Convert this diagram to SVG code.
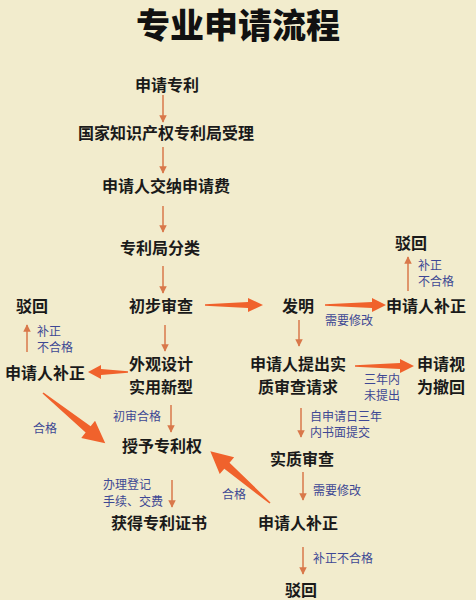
<svg xmlns="http://www.w3.org/2000/svg" width="476" height="600" viewBox="0 0 476 600">
<style>
.bg{fill:#F2ECCD}
.title{font-family:"Noto Sans CJK SC","Noto Sans",sans-serif;font-size:34px;font-weight:900;fill:#111;text-anchor:middle}
.n{font-family:"Noto Sans CJK SC","Noto Sans",sans-serif;font-size:16px;font-weight:700;fill:#1a1a1a;text-anchor:middle}
.l{font-family:"Noto Sans CJK SC","Noto Sans",sans-serif;font-size:12px;fill:#3E4894}
.thin{stroke:#D9784A;stroke-width:1.5;fill:none;marker-end:url(#ah)}
.thick{fill:#F0622C}
</style>
<defs>
<marker id="ah" viewBox="0 0 10 10" refX="9" refY="5" markerWidth="5" markerHeight="5" orient="auto" markerUnits="strokeWidth">
<path d="M0,0 L10,5 L0,10 Z" fill="#D9784A"/>
</marker>
</defs>
<rect class="bg" x="0" y="0" width="476" height="600"/>
<text class="title" x="238" y="38">专业申请流程</text>

<g id="connectors">
<line class="thin" x1="163" y1="95" x2="163" y2="122"/>
<line class="thin" x1="163" y1="147" x2="163" y2="173"/>
<line class="thin" x1="163" y1="206" x2="163" y2="232"/>
<line class="thin" x1="163" y1="266" x2="163" y2="293"/>
<line class="thin" x1="165" y1="325" x2="165" y2="351"/>
<line class="thin" x1="299" y1="320" x2="299" y2="346"/>
<line class="thin" x1="171" y1="405" x2="171" y2="432"/>
<line class="thin" x1="301" y1="408" x2="301" y2="437"/>
<line class="thin" x1="172" y1="480" x2="172" y2="507"/>
<line class="thin" x1="303" y1="472" x2="303" y2="500"/>
<line class="thin" x1="303" y1="547" x2="303" y2="574"/>
<line class="thin" x1="408" y1="291" x2="408" y2="257"/>
<line class="thin" x1="27" y1="352" x2="27" y2="325"/>
<path class="thick" transform="translate(205,305)" d="M0,-0.8 L43,-3 L43,-7 L58,0 L43,7 L43,3 L0,0.8 Z"/>
<path class="thick" transform="translate(325,305)" d="M0,-0.8 L47,-3 L47,-7 L61,0 L47,7 L47,3 L0,0.8 Z"/>
<path class="thick" transform="translate(128,372) rotate(180)" d="M0,-0.8 L27,-3 L27,-7 L40,0 L27,7 L27,3 L0,0.8 Z"/>
<path class="thick" transform="translate(355,366)" d="M0,-0.8 L45,-3 L45,-7 L59,0 L45,7 L45,3 L0,0.8 Z"/>
<path class="thick" transform="translate(43,393) rotate(38.9)" d="M0,-0.8 L58,-4 L58,-11 L80,0 L58,11 L58,4 L0,0.8 Z"/>
<path class="thick" transform="translate(270,503) rotate(220.9)" d="M0,-0.8 L57,-4 L57,-11 L79,0 L57,11 L57,4 L0,0.8 Z"/>
</g>

<g id="n-apply"><text class="n" x="167" y="91">申请专利</text></g>
<g id="n-accept"><text class="n" x="166" y="139">国家知识产权专利局受理</text></g>
<g id="n-fee"><text class="n" x="166" y="192">申请人交纳申请费</text></g>
<g id="n-classify"><text class="n" x="160" y="254">专利局分类</text></g>
<g id="n-prelim"><text class="n" x="161" y="312">初步审查</text></g>
<g id="n-invention"><text class="n" x="298" y="312">发明</text></g>
<g id="n-correct-r"><text class="n" x="426" y="312">申请人补正</text></g>
<g id="n-reject-tr"><text class="n" x="411" y="249">驳回</text></g>
<g id="n-reject-l"><text class="n" x="32" y="312">驳回</text></g>
<g id="n-correct-l"><text class="n" x="45" y="379">申请人补正</text></g>
<g id="n-design"><text class="n" x="161" y="370">外观设计</text><text class="n" x="161" y="393">实用新型</text></g>
<g id="n-request"><text class="n" x="298" y="370">申请人提出实</text><text class="n" x="298" y="393">质审查请求</text></g>
<g id="n-withdrawn"><text class="n" x="441" y="370">申请视</text><text class="n" x="441" y="393">为撤回</text></g>
<g id="n-grant"><text class="n" x="162" y="452">授予专利权</text></g>
<g id="n-substantive"><text class="n" x="302" y="465">实质审查</text></g>
<g id="n-correct-b"><text class="n" x="298" y="529">申请人补正</text></g>
<g id="n-certificate"><text class="n" x="159" y="529">获得专利证书</text></g>
<g id="n-reject-b"><text class="n" x="301" y="596">驳回</text></g>

<g id="labels">
<text class="l" x="418" y="270">补正</text><text class="l" x="418" y="286">不合格</text>
<text class="l" x="37" y="336">补正</text><text class="l" x="37" y="352">不合格</text>
<text class="l" x="325" y="325">需要修改</text>
<text class="l" x="364" y="384">三年内</text><text class="l" x="364" y="400">未提出</text>
<text class="l" x="113" y="421">初审合格</text>
<text class="l" x="33" y="433">合格</text>
<text class="l" x="310" y="421">自申请日三年</text><text class="l" x="310" y="437">内书面提交</text>
<text class="l" x="103" y="489">办理登记</text><text class="l" x="103" y="506">手续、交费</text>
<text class="l" x="313" y="495">需要修改</text>
<text class="l" x="222" y="499">合格</text>
<text class="l" x="313" y="563">补正不合格</text>
</g>
</svg>
